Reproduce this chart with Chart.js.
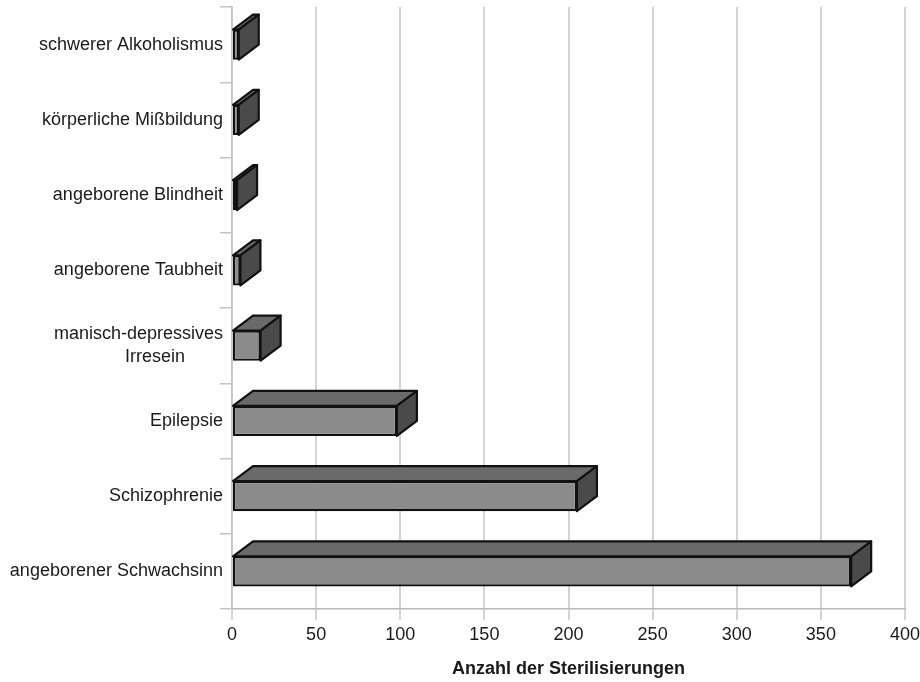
<!DOCTYPE html>
<html>
<head>
<meta charset="utf-8">
<script src="https://cdn.jsdelivr.net/npm/chart.js@4/dist/chart.umd.min.js"></script>
<style>
  html, body { margin: 0; padding: 0; background: #ffffff; }
  #wrap { width: 920px; height: 682px; }
</style>
</head>
<body>
<div id="wrap"><canvas id="c" width="920" height="682"></canvas></div>
<script>
// Sterilisierungen nach Diagnose
const categories = [
  'schwerer Alkoholismus',
  'körperliche Mißbildung',
  'angeborene Blindheit',
  'angeborene Taubheit',
  ['manisch-depressives', 'Irresein'],
  'Epilepsie',
  'Schizophrenie',
  'angeborener Schwachsinn'
];
const sterilisierungen = [4, 4, 3, 5, 17, 98, 205, 368];
const xTicks = [0, 50, 100, 150, 200, 250, 300, 350, 400];
const xTitle = 'Anzahl der Sterilisierungen';

const FONT = '"Liberation Sans", Arial, sans-serif';
const TEXT = '#1a1a1a';

// Extruded look: top and right faces drawn behind-right of each bar's front face
const depthBars = {
  id: 'depthBars',
  afterDatasetsDraw(chart) {
    const ctx = chart.ctx;
    const dx = 20, dy = 15;
    chart.getDatasetMeta(0).data.forEach(el => {
      const p = el.getProps(['x', 'y', 'base', 'height'], true);
      const l = Math.min(p.base, p.x), r = Math.max(p.base, p.x);
      const t = p.y - p.height / 2, b = p.y + p.height / 2;
      ctx.save();
      ctx.lineJoin = 'round';
      ctx.lineWidth = 2.2;
      ctx.strokeStyle = '#111111';
      // top face
      ctx.beginPath();
      ctx.moveTo(l, t);
      ctx.lineTo(l + dx, t - dy);
      ctx.lineTo(r + dx, t - dy);
      ctx.lineTo(r, t);
      ctx.closePath();
      ctx.fillStyle = '#6a6a6a';
      ctx.fill();
      ctx.stroke();
      // side face
      ctx.beginPath();
      ctx.moveTo(r, t);
      ctx.lineTo(r + dx, t - dy);
      ctx.lineTo(r + dx, b - dy);
      ctx.lineTo(r, b);
      ctx.closePath();
      ctx.fillStyle = '#4a4a4a';
      ctx.fill();
      ctx.stroke();
      ctx.restore();
    });
  }
};

// Category labels beside the vertical axis
const categoryLabels = {
  id: 'categoryLabels',
  afterDraw(chart) {
    const ctx = chart.ctx;
    const ys = chart.scales.y;
    const right = ys.right - 9;
    const lh = 23;
    ctx.save();
    ctx.font = '18px ' + FONT;
    ctx.fillStyle = TEXT;
    ctx.textBaseline = 'middle';
    categories.forEach((lab, i) => {
      const lines = Array.isArray(lab) ? lab : [lab];
      const cy = ys.getPixelForValue(i);
      const y0 = cy - (lines.length - 1) * lh / 2;
      lines.forEach((line, k) => {
        if (k === 0) {
          ctx.textAlign = 'right';
          ctx.fillText(line, right, y0);
        } else {
          ctx.textAlign = 'center';
          ctx.fillText(line, right - 68, y0 + k * lh);
        }
      });
    });
    ctx.restore();
  }
};

new Chart(document.getElementById('c'), {
  type: 'bar',
  data: {
    labels: categories,
    datasets: [{
      data: sterilisierungen,
      backgroundColor: '#8b8b8b',
      borderColor: '#111111',
      borderWidth: 2.2,
      borderSkipped: false,
      categoryPercentage: 0.4,
      barPercentage: 1.0
    }]
  },
  options: {
    indexAxis: 'y',
    responsive: false,
    animation: false,
    layout: { padding: { top: 7, right: 15, left: 0, bottom: 0 } },
    plugins: {
      legend: { display: false },
      tooltip: { enabled: false }
    },
    scales: {
      x: {
        min: xTicks[0],
        max: xTicks[xTicks.length - 1],
        afterBuildTicks(scale) {
          scale.ticks = xTicks.map(v => ({ value: v }));
        },
        afterFit(scale) {
          scale.height = 73;
          scale.paddingRight = 0;
          scale.paddingLeft = 0;
        },
        grid: {
          color: '#d4d4d4',
          lineWidth: 2,
          tickLength: 11,
          drawTicks: true
        },
        border: { display: true, color: '#b8b8b8', width: 1.5 },
        ticks: {
          padding: 4,
          color: TEXT,
          font: { family: FONT, size: 18 }
        },
        title: {
          display: true,
          text: xTitle,
          color: TEXT,
          font: { family: FONT, size: 18, weight: 'bold' },
          padding: { top: 4, bottom: 2 }
        }
      },
      y: {
        afterFit(scale) { scale.width = 232; },
        grid: {
          drawOnChartArea: false,
          color: '#c4c4c4',
          lineWidth: 1.5,
          tickLength: 12,
          offset: true
        },
        border: { display: true, color: '#c4c4c4', width: 1.5 },
        ticks: { display: false }
      }
    }
  },
  plugins: [depthBars, categoryLabels]
});
</script>
</body>
</html>
